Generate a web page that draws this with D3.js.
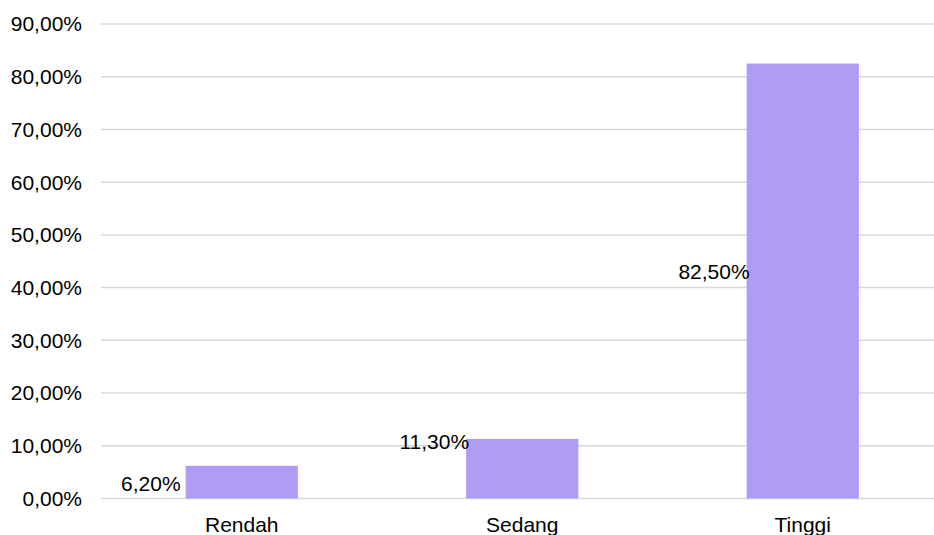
<!DOCTYPE html>
<html lang="en">
<head>
  <meta charset="UTF-8">
  <title>Rendah / Sedang / Tinggi</title>
  <script src="https://cdn.jsdelivr.net/npm/d3@7"></script>
  <style>
    body { margin: 0; background: #fff; }
    text { font-family: "Liberation Sans", Arial, sans-serif; font-size: 21px; fill: #000; }
    .grid line { stroke: #d9d9d9; stroke-width: 1.5px; }
  </style>
</head>
<body>
<svg id="chart" width="934" height="535"></svg>

<script>
// data
var categories = ["Rendah", "Sedang", "Tinggi"];
var values = [6.2, 11.3, 82.5];
var yTicks = [0, 10, 20, 30, 40, 50, 60, 70, 80, 90];
// where each data label sits (value units), as placed in the original
var labelAt = [2.75, 10.8, 43.05];

var svg = d3.select("#chart");

var x = d3.scaleBand()
    .domain(categories)
    .range([101.5, 943])
    .paddingInner(0.6)
    .paddingOuter(0.3);

var y = d3.scaleLinear()
    .domain([0, 90])
    .range([498.5, 24]);

function fmt(v) {
  return d3.format(".2f")(v).replace(".", ",") + "%";
}

// gridlines
svg.append("g")
    .attr("class", "grid")
  .selectAll("line")
  .data(yTicks)
  .enter().append("line")
    .attr("x1", 101)
    .attr("x2", 934)
    .attr("y1", function(d) { return y(d); })
    .attr("y2", function(d) { return y(d); });

// y tick labels
svg.append("g")
  .selectAll("text")
  .data(yTicks)
  .enter().append("text")
    .attr("x", 82)
    .attr("y", function(d) { return y(d); })
    .attr("dy", "0.35em")
    .attr("text-anchor", "end")
    .text(fmt);

// bars
svg.append("g")
  .selectAll("rect")
  .data(values)
  .enter().append("rect")
    .attr("x", function(d, i) { return x(categories[i]); })
    .attr("width", x.bandwidth())
    .attr("y", function(d) { return y(d); })
    .attr("height", function(d) { return y(0) - y(d); })
    .attr("fill", "#b09cf5");

// category labels
svg.append("g")
  .selectAll("text")
  .data(categories)
  .enter().append("text")
    .attr("x", function(d) { return x(d) + x.bandwidth() / 2; })
    .attr("y", 531.5)
    .attr("text-anchor", "middle")
    .text(function(d) { return d; });

// data labels
var labelDx = [-5, 3, 3];
svg.append("g")
  .selectAll("text")
  .data(values)
  .enter().append("text")
    .attr("x", function(d, i) { return x(categories[i]) + labelDx[i]; })
    .attr("y", function(d, i) { return y(labelAt[i]); })
    .attr("dy", "0.35em")
    .attr("text-anchor", "end")
    .text(function(d) { return d.toFixed(2).replace(".", ",") + "%"; });
</script>
</body>
</html>
